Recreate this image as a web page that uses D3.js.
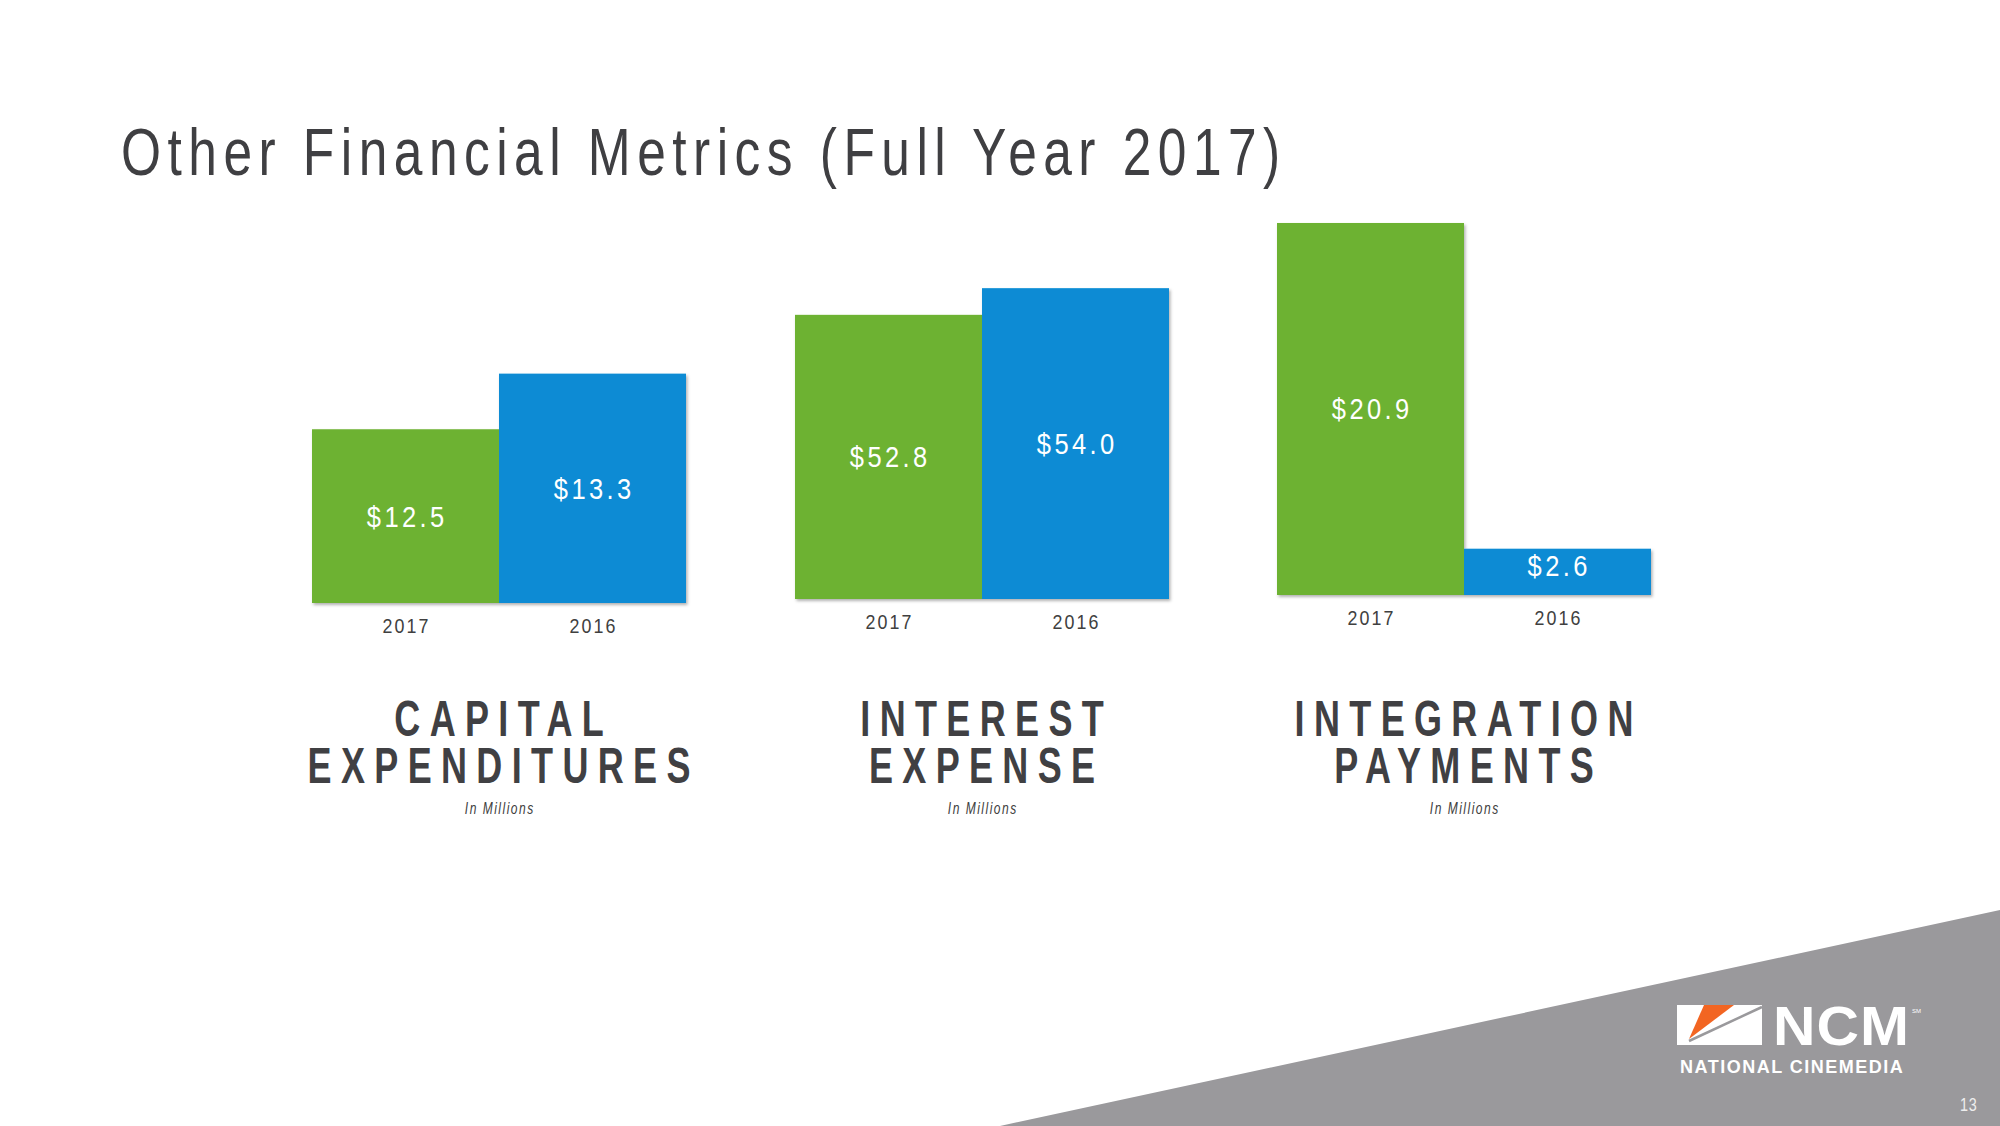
<!DOCTYPE html>
<html>
<head>
<meta charset="utf-8">
<title>Other Financial Metrics (Full Year 2017)</title>
<script src="https://cdn.jsdelivr.net/npm/d3@7/dist/d3.min.js"></script>
<style>
    html, body { margin: 0; padding: 0; background: #fff; }
    svg { display: block; font-family: "Liberation Sans", Arial, Helvetica, sans-serif; }
</style>
</head>
<body>
<div id="slide"></div>
<script>
// Chart data
const panelTitles = [['CAPITAL', 'EXPENDITURES'], ['INTEREST', 'EXPENSE'], ['INTEGRATION', 'PAYMENTS']];
const years = ['2017', '2016'];
const values2017 = [12.5, 52.8, 20.9];
const values2016 = [13.3, 54.0, 2.6];
const axisMin = [10, 40, 0];
const axisMax = [16, 60, 25];
const unitNote = 'In Millions';
const slideTitle = 'Other Financial Metrics (Full Year 2017)';
const pageNumber = '13';

// Colors
const colorMap = {
    '2017': '#6db233', // Green
    '2016': '#078bd4'  // Blue
};
const textColor = '#404043';

// Panel placement on the slide
const layout = [
    { x: 312, width: 374, top: 186, baseline: 603, center: 499 },
    { x: 795, width: 374, top: 155, baseline: 599, center: 982 },
    { x: 1277, width: 374, top: 150, baseline: 595, center: 1464 }
];

const W = 2000, H = 1126;

const svg = d3.select('#slide')
    .append('svg')
    .attr('width', W)
    .attr('height', H);

// Soft shadow under the bars
const defs = svg.append('defs');
defs.append('filter')
    .attr('id', 'barShadow')
    .attr('x', '-5%').attr('y', '-5%')
    .attr('width', '115%').attr('height', '115%')
    .append('feDropShadow')
    .attr('dx', 1.5)
    .attr('dy', 2)
    .attr('stdDeviation', 1.5)
    .attr('flood-color', '#000')
    .attr('flood-opacity', 0.3);

// Condensed, letter-spaced text (the slide font is squeezed horizontally)
function addText(parent, opts) {
    const ls = opts.spacing || 0;
    const anchor = opts.anchor || 'middle';
    const shift = anchor === 'middle' ? ls / 2 : 0;
    return parent.append('g')
        .attr('transform', `translate(${opts.x}, ${opts.y}) scale(${opts.sx || 1}, 1)`)
        .append('text')
        .attr('x', shift)
        .attr('y', 0)
        .attr('dy', opts.dy || 0)
        .attr('text-anchor', anchor)
        .attr('font-size', opts.size)
        .attr('font-weight', opts.weight || 'normal')
        .attr('font-style', opts.style || 'normal')
        .attr('letter-spacing', ls)
        .attr('fill', opts.fill || textColor)
        .text(opts.text);
}

// Gray diagonal footer
svg.append('path')
    .attr('d', `M1000,${H} L${W},910 L${W},${H} Z`)
    .attr('fill', '#9a999c');

// Title
addText(svg, {
    x: 121, y: 175, sx: 0.78, size: 66, spacing: 8.3,
    anchor: 'start', text: slideTitle, fill: '#3f3f42'
});

class MetricPanel {
    constructor(parent, index) {
        this.parent = parent;
        this.index = index;
        this.box = layout[index];
        this.displayData = years.map(y => ({
            year: y,
            value: y === '2017' ? values2017[index] : values2016[index]
        }));
        this.initVis();
    }

    initVis() {
        let vis = this;
        const b = vis.box;

        vis.group = vis.parent.append('g').attr('class', 'panel');

        vis.xScale = d3.scaleBand()
            .domain(years)
            .range([b.x, b.x + b.width])
            .padding(0);

        vis.yScale = d3.scaleLinear()
            .domain([axisMin[vis.index], axisMax[vis.index]])
            .range([b.baseline, b.top]);

        // Bars
        vis.group.append('g')
            .attr('filter', 'url(#barShadow)')
            .selectAll('.bar')
            .data(vis.displayData)
            .enter()
            .append('rect')
            .attr('class', 'bar')
            .attr('x', d => vis.xScale(d.year))
            .attr('width', vis.xScale.bandwidth())
            .attr('y', d => vis.yScale(d.value))
            .attr('height', d => b.baseline - vis.yScale(d.value))
            .attr('fill', d => colorMap[d.year]);

        // Value labels, centred inside each bar
        vis.displayData.forEach(d => {
            const yTop = vis.yScale(d.value);
            addText(vis.group, {
                x: vis.xScale(d.year) + vis.xScale.bandwidth() / 2,
                y: Math.min((yTop + b.baseline) / 2, b.baseline - 30),
                dy: '0.35em', sx: 0.85, size: 30, spacing: 4,
                fill: '#ffffff', text: '$' + d.value.toFixed(1)
            });
        });

        // Year axis
        const axis = vis.group.append('g')
            .attr('transform', `translate(0, ${b.baseline})`)
            .call(d3.axisBottom(vis.xScale).tickSize(0).tickPadding(0));
        axis.select('.domain').remove();
        axis.selectAll('.tick text').remove();
        axis.selectAll('.tick').each(function(d) {
            addText(d3.select(this), {
                x: 0, y: 30, sx: 0.85, size: 21, spacing: 2.5, text: d, fill: '#404040'
            });
        });

        // Panel heading
        panelTitles[vis.index].forEach((line, i) => {
            addText(vis.group, {
                x: b.center, y: 736 + i * 47, sx: 0.72, size: 50, spacing: 13,
                weight: 'bold', text: line
            });
        });

        addText(vis.group, {
            x: b.center, y: 814, sx: 0.75, size: 16, spacing: 2,
            style: 'italic', text: unitNote, fill: '#404040'
        });
    }
}

panelTitles.forEach((t, i) => new MetricPanel(svg, i));

// NCM logo
const logo = svg.append('g').attr('class', 'logo');
logo.append('rect')
    .attr('x', 1677).attr('y', 1005)
    .attr('width', 85).attr('height', 40)
    .attr('fill', '#ffffff');
logo.append('path')
    .attr('d', 'M1704,1005 L1734,1005 L1689,1039 Z')
    .attr('fill', '#f26522');
logo.append('path')
    .attr('d', 'M1689,1041 L1762,1007')
    .attr('stroke', '#9a999c')
    .attr('stroke-width', 2.5);
addText(logo, {
    x: 1773, y: 1045, sx: 1.05, size: 56, spacing: 1, anchor: 'start',
    weight: 'bold', text: 'NCM', fill: '#ffffff'
});
addText(logo, {
    x: 1912, y: 1013, sx: 1, size: 6, anchor: 'start', text: 'SM', fill: '#ffffff'
});
addText(logo, {
    x: 1680, y: 1073, sx: 1, size: 18, spacing: 1.5, anchor: 'start',
    weight: 'bold', text: 'NATIONAL CINEMEDIA', fill: '#ffffff'
});

// Page number
addText(svg, {
    x: 1960, y: 1111, sx: 0.8, size: 18, spacing: 1, anchor: 'start',
    text: pageNumber, fill: '#eeeeee'
});
</script>
</body>
</html>
